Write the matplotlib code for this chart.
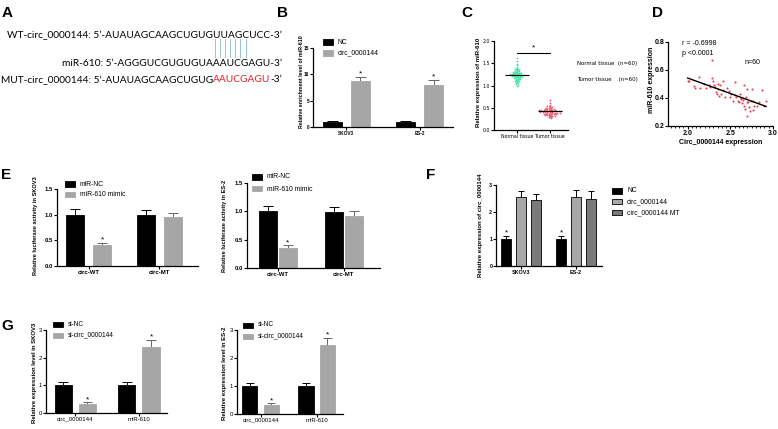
import numpy as np
import matplotlib
matplotlib.use('Agg')
import matplotlib.pyplot as plt
from matplotlib.font_manager import FontProperties
from matplotlib.patches import Rectangle
from matplotlib.ticker import MultipleLocator

W, H = 778, 429

# ---------------- data ----------------
# A: sequences
wt_seq = "WT-circ_0000144: 5\u2019-AUAUAGCAAGCUGUGUUAGCUCC-3\u2019"
mir_seq = "miR-610: 5\u2019-AGGGUCGUGUGUAAAUCGAGU-3\u2019"
mut_head = "MUT-circ_0000144: 5\u2019-AUAUAGCAAGCUGUG"
mut_site = "AAUCGAGU"
mut_tail = "-3\u2019"

# B: RIP enrichment
b_groups = ['SKOV3', 'ES-2']
b_legend = ['NC', 'circ_0000144']
b_nc = [1.0, 1.0]
b_nc_err = [0.1, 0.1]
b_circ = [8.7, 8.0]
b_circ_err = [0.85, 0.9]

# C: miR-610 in tissues
c_groups = ['Normal tissue', 'Tumor tissue']
c_normal = [1.62, 1.55, 1.48, 1.45, 1.42, 1.40, 1.38, 1.37, 1.36, 1.35,
            1.34, 1.33, 1.33, 1.32, 1.31, 1.30, 1.30, 1.29, 1.29, 1.28,
            1.28, 1.27, 1.27, 1.26, 1.26, 1.26, 1.25, 1.25, 1.25, 1.24,
            1.24, 1.24, 1.23, 1.23, 1.22, 1.22, 1.21, 1.21, 1.20, 1.20,
            1.19, 1.19, 1.18, 1.18, 1.17, 1.16, 1.15, 1.15, 1.14, 1.13,
            1.12, 1.11, 1.10, 1.09, 1.08, 1.06, 1.05, 1.03, 1.02, 1.00]
c_tumor = [0.67, 0.60, 0.56, 0.54, 0.53, 0.52, 0.51, 0.50, 0.50, 0.49,
           0.49, 0.48, 0.48, 0.47, 0.47, 0.46, 0.46, 0.46, 0.45, 0.45,
           0.45, 0.44, 0.44, 0.44, 0.43, 0.43, 0.43, 0.43, 0.42, 0.42,
           0.42, 0.41, 0.41, 0.41, 0.40, 0.40, 0.40, 0.39, 0.39, 0.39,
           0.38, 0.38, 0.38, 0.37, 0.37, 0.36, 0.36, 0.35, 0.35, 0.34,
           0.34, 0.33, 0.33, 0.32, 0.32, 0.31, 0.30, 0.30, 0.29, 0.28]

# D: correlation
d_circ = [2.00, 2.02, 2.13, 2.15, 2.19, 2.21, 2.25, 2.29, 2.28, 2.30,
          2.31, 2.32, 2.33, 2.34, 2.35, 2.36, 2.38, 2.39, 2.41, 2.42,
          2.44, 2.46, 2.48, 2.50, 2.51, 2.53, 2.56, 2.57, 2.59, 2.60,
          2.61, 2.62, 2.63, 2.64, 2.65, 2.66, 2.66, 2.67, 2.68, 2.69,
          2.70, 2.70, 2.71, 2.72, 2.73, 2.74, 2.75, 2.76, 2.77, 2.78,
          2.81, 2.84, 2.87, 2.90, 2.92, 2.37, 2.26, 2.09, 2.07, 2.56]
d_mir = [0.519, 0.524, 0.552, 0.471, 0.500, 0.470, 0.495, 0.671, 0.540, 0.520,
         0.495, 0.476, 0.445, 0.430, 0.500, 0.462, 0.490, 0.430, 0.524, 0.457,
         0.405, 0.470, 0.448, 0.410, 0.430, 0.380, 0.512, 0.405, 0.376, 0.369,
         0.430, 0.393, 0.398, 0.362, 0.386, 0.495, 0.345, 0.321, 0.405, 0.374,
         0.464, 0.269, 0.369, 0.338, 0.305, 0.376, 0.464, 0.314, 0.381, 0.345,
         0.345, 0.369, 0.457, 0.345, 0.381, 0.417, 0.480, 0.469, 0.488, 0.424]

# E: luciferase
e_groups = ['circ-WT', 'circ-MT']
e_legend = ['miR-NC', 'miR-610 mimic']
e_skov3_nc = [1.0, 1.0]
e_skov3_nc_err = [0.11, 0.1]
e_skov3_mimic = [0.40, 0.945]
e_skov3_mimic_err = [0.045, 0.085]
e_es2_nc = [1.0, 0.99]
e_es2_nc_err = [0.1, 0.09]
e_es2_mimic = [0.355, 0.91]
e_es2_mimic_err = [0.045, 0.09]

# F: overexpression
f_groups = ['SKOV3', 'ES-2']
f_legend = ['NC', 'circ_0000144', 'circ_0000144 MT']
f_nc = [1.0, 1.0]
f_nc_err = [0.11, 0.11]
f_circ = [2.56, 2.57]
f_circ_err = [0.22, 0.24]
f_mt = [2.44, 2.49]
f_mt_err = [0.21, 0.29]

# G: knockdown
g_groups = ['circ_0000144', 'miR-610']
g_legend = ['si-NC', 'si-circ_0000144']
g_skov3_nc = [1.0, 1.0]
g_skov3_nc_err = [0.12, 0.12]
g_skov3_si = [0.325, 2.39]
g_skov3_si_err = [0.06, 0.26]
g_es2_nc = [1.0, 1.0]
g_es2_nc_err = [0.12, 0.12]
g_es2_si = [0.333, 2.46]
g_es2_si_err = [0.05, 0.25]

BLACK = '#000000'
GRAY = '#a6a6a6'
DGRAY = '#7a7a7a'
NARROW = ['Liberation Sans Narrow', 'DejaVu Sans']

plt.rcParams['font.family'] = ['Liberation Sans', 'DejaVu Sans']
plt.rcParams['font.size'] = 4.3

fig = plt.figure(figsize=(W / 100, H / 100), dpi=100)


def px_axes(x0, x1, ytop, ybot, tick_size=4.3):
    ax = fig.add_axes([x0 / W, 1 - ybot / H, (x1 - x0) / W, (ybot - ytop) / H])
    ax.spines['top'].set_visible(False)
    ax.spines['right'].set_visible(False)
    ax.spines['left'].set_linewidth(0.9)
    ax.spines['bottom'].set_linewidth(0.9)
    ax.tick_params(length=1.9, width=0.8, pad=0.8, labelsize=tick_size)
    ax.patch.set_alpha(0)
    return ax


def ylabel(ax, text, right_px, frac, size=4.3):
    ax.set_ylabel(text, fontsize=size, fontweight='bold')
    bb = ax.get_position()
    x0 = bb.x0 * W
    ax.yaxis.set_label_coords((right_px - x0) / (bb.width * W), frac)


def draw_bars(ax, vals, errs, offset, width, color, edge, ecolor, stars=()):
    x = np.arange(len(vals)) + offset
    ax.bar(x, vals, width, color=color, edgecolor=edge, linewidth=0.6, zorder=2)
    tops = np.add(vals, errs)
    ax.vlines(x, vals, tops, color=ecolor, lw=0.7, zorder=1)
    ax.hlines(tops, x - width * 0.28, x + width * 0.28, color=ecolor, lw=0.7, zorder=1)
    for i in stars:
        ax.annotate('*', (x[i], tops[i]), xytext=(0, -0.5), textcoords='offset points',
                    ha='center', va='bottom', fontsize=6)


def px_legend(x, y, labels, colors, step, edge=None, size=4.9):
    for k, (lab, col) in enumerate(zip(labels, colors)):
        yy = y + k * step
        fig.patches.append(Rectangle((x / W, 1 - (yy + 2.5) / H), 10 / W, 5 / H,
                                     transform=fig.transFigure, facecolor=col,
                                     edgecolor=edge or col, linewidth=0.6))
        fig.text((x + 15) / W, 1 - yy / H, lab, fontsize=size, va='center')


def panel_letter(x, y, s):
    fig.text(x / W, 1 - y / H, s, fontsize=11, fontweight='bold', va='top')


def bold_ticks(ax):
    plt.setp(ax.get_xticklabels(), fontweight='bold')
    plt.setp(ax.get_yticklabels(), fontweight='bold')


# ---------------- A ----------------
panel_letter(2, 6, 'A')
seq_font = FontProperties(family=['Lato', 'DejaVu Sans'], size=7.3)
rend = fig.canvas.get_renderer()


def tw(s):
    return rend.get_text_width_height_descent(s, seq_font, ismath=False)[0]


right = 282
fig.text((right - tw(wt_seq)) / W, 1 - 35 / H, wt_seq, fontproperties=seq_font, va='center')
fig.text((right - tw(mir_seq)) / W, 1 - 63 / H, mir_seq, fontproperties=seq_font, va='center')
xt = right - tw(mut_tail)
fig.text(xt / W, 1 - 80 / H, mut_tail, fontproperties=seq_font, va='center')
xs = xt - tw(mut_site)
fig.text(xs / W, 1 - 80 / H, mut_site, fontproperties=seq_font, va='center', color='#e8202a')
fig.text((xs - tw(mut_head)) / W, 1 - 80 / H, mut_head, fontproperties=seq_font, va='center')
for xp in [215, 220, 225, 230, 235, 240.5, 246]:
    fig.add_artist(plt.Line2D([xp / W, xp / W], [1 - 39 / H, 1 - 57 / H],
                              color='#9cc3e0', lw=0.7))

# ---------------- B ----------------
panel_letter(277, 6, 'B')
ax = px_axes(313, 453, 48, 127, tick_size=3.4)
draw_bars(ax, b_nc, b_nc_err, -0.19, 0.26, BLACK, BLACK, BLACK)
draw_bars(ax, b_circ, b_circ_err, 0.19, 0.26, GRAY, GRAY, '#666666', stars=(0, 1))
ax.set_xlim(-0.45, 1.45)
ax.set_ylim(0, 15)
ax.set_yticks([0, 5, 10, 15])
ax.set_xticks(range(len(b_groups)), b_groups)
bold_ticks(ax)
ylabel(ax, 'Relative enrichment level of miR-610', 304, 0.57, size=3.8)
px_legend(323, 42, b_legend, [BLACK, GRAY], 11)

# ---------------- C ----------------
panel_letter(461, 6, 'C')
ax = px_axes(494, 568, 41, 130, tick_size=3.8)


def swarm(vals, bin_w, step):
    vals = np.asarray(vals)
    bins = np.round(vals / bin_w)
    offs = np.zeros(len(vals))
    for b in np.unique(bins):
        idx = np.where(bins == b)[0]
        offs[idx] = (np.arange(len(idx)) - (len(idx) - 1) / 2) * step
    return offs


ax.scatter(0 + swarm(c_normal, 0.025, 0.055), c_normal, s=1.6, color='#3fe0a4', lw=0, zorder=2)
ax.scatter(1 + swarm(c_tumor, 0.02, 0.075), c_tumor, s=1.6, color='#f0506a', lw=0, zorder=2)
ax.hlines([np.mean(c_normal), np.mean(c_tumor)], [-0.37, 0.63], [0.37, 1.37], color='black', lw=0.8, zorder=3)
ax.plot([0, 1], [1.74, 1.74], color='black', lw=0.8)
ax.text(0.5, 1.76, '*', ha='center', va='bottom', fontsize=6)
ax.set_xlim(-0.7, 1.55)
ax.set_ylim(0, 2.0)
ax.set_yticks([0, 0.5, 1.0, 1.5, 2.0])
ax.set_xticks(range(2), c_groups)
for lab in ax.get_xticklabels() + ax.get_yticklabels():
    lab.set_family(NARROW)
    lab.set_stretch('condensed')
ylabel(ax, 'Relative expression of miR-610', 481, 0.54, size=4.3)
fig.text(577 / W, 1 - 63 / H, 'Normal tissue  (n=60)', fontsize=4.3, va='center',
         family=NARROW, stretch='condensed')
fig.text(577 / W, 1 - 80 / H, 'Tumor tissue    (n=60)', fontsize=4.3, va='center',
         family=NARROW, stretch='condensed')

# ---------------- D ----------------
panel_letter(652, 6, 'D')
ax = px_axes(668, 773, 42, 126, tick_size=5)
ax.scatter(d_circ, d_mir, s=2.2, color='#ee3a46', lw=0, zorder=2)
k, c0 = np.polyfit(d_circ, d_mir, 1)
xl = np.array([2.0, 2.92])
ax.plot(xl, k * xl + c0, color='black', lw=1.0)
ax.set_xlim(1.77, 3.0)
ax.set_ylim(0.2, 0.8)
ax.set_xticks([2.0, 2.5, 3.0])
ax.set_yticks([0.2, 0.4, 0.6, 0.8])
ax.xaxis.set_minor_locator(MultipleLocator(0.05))
ax.tick_params(which='minor', length=1.3, width=0.6)
bold_ticks(ax)
ax.set_xlabel('Circ_0000144 expression', fontsize=5, fontweight='bold', labelpad=1.5)
ylabel(ax, 'miR-610 expression', 655, 0.55, size=5)
ax.text(1.93, 0.786, 'r = -0.6998', fontsize=5, va='center')
ax.text(1.93, 0.72, 'p <0.0001', fontsize=5, va='center')
ax.text(2.67, 0.657, 'n=60', fontsize=5, va='center')

# ---------------- E ----------------
panel_letter(1, 168, 'E')
ax = px_axes(57, 198, 189, 266)
draw_bars(ax, e_skov3_nc, e_skov3_nc_err, -0.19, 0.255, BLACK, BLACK, BLACK)
draw_bars(ax, e_skov3_mimic, e_skov3_mimic_err, 0.19, 0.255, GRAY, GRAY, '#666666', stars=(0,))
ax.set_xlim(-0.45, 1.55)
ax.set_ylim(0, 1.5)
ax.set_yticks([0, 0.5, 1.0, 1.5])
ax.set_xticks(range(2), e_groups)
bold_ticks(ax)
ylabel(ax, 'Relative luciferase activity in SKOV3', 38, 0.52, size=4.1)
px_legend(65, 184, e_legend, [BLACK, GRAY], 10.5)

ax = px_axes(247, 380, 183, 268)
draw_bars(ax, e_es2_nc, e_es2_nc_err, -0.15, 0.27, BLACK, BLACK, BLACK)
draw_bars(ax, e_es2_mimic, e_es2_mimic_err, 0.15, 0.27, GRAY, GRAY, '#666666', stars=(0,))
ax.set_xlim(-0.47, 1.55)
ax.set_ylim(0, 1.5)
ax.set_yticks([0, 0.5, 1.0, 1.5])
ax.set_xticks(range(2), e_groups)
bold_ticks(ax)
ylabel(ax, 'Relative luciferase activity in ES-2', 227, 0.5, size=4.1)
px_legend(252, 177, e_legend, [BLACK, GRAY], 12)

# ---------------- F ----------------
panel_letter(426, 168, 'F')
ax = px_axes(496, 602, 185, 266, tick_size=3.9)
draw_bars(ax, f_nc, f_nc_err, -0.27, 0.18, BLACK, BLACK, BLACK, stars=(0, 1))
draw_bars(ax, f_circ, f_circ_err, 0.0, 0.18, '#a8a8a8', BLACK, BLACK)
draw_bars(ax, f_mt, f_mt_err, 0.27, 0.18, DGRAY, BLACK, BLACK)
ax.set_xlim(-0.455, 1.47)
ax.set_ylim(0, 3)
ax.set_yticks([0, 1, 2, 3])
ax.set_xticks(range(2), f_groups)
bold_ticks(ax)
ylabel(ax, 'Relative expression of circ_0000144', 483, 0.5)
px_legend(612, 191, f_legend, [BLACK, '#a8a8a8', DGRAY], 10.7, edge=BLACK)

# ---------------- G ----------------
panel_letter(1, 319, 'G')
ax = px_axes(46, 167, 330, 413)
draw_bars(ax, g_skov3_nc, g_skov3_nc_err, -0.19, 0.27, BLACK, BLACK, BLACK)
draw_bars(ax, g_skov3_si, g_skov3_si_err, 0.19, 0.27, GRAY, GRAY, '#666666', stars=(0, 1))
ax.set_xlim(-0.46, 1.44)
ax.set_ylim(0, 3)
ax.set_yticks([0, 1, 2, 3])
ax.set_xticks(range(2), g_groups)
ylabel(ax, 'Relative expression level in SKOV3', 37, 0.48)
px_legend(53, 324, g_legend, [BLACK, GRAY], 11, size=4.7)

ax = px_axes(237, 343, 330, 414)
draw_bars(ax, g_es2_nc, g_es2_nc_err, -0.19, 0.27, BLACK, BLACK, BLACK)
draw_bars(ax, g_es2_si, g_es2_si_err, 0.19, 0.27, GRAY, GRAY, '#666666', stars=(0, 1))
ax.set_xlim(-0.42, 1.47)
ax.set_ylim(0, 3)
ax.set_yticks([0, 1, 2, 3])
ax.set_xticks(range(2), g_groups)
ylabel(ax, 'Relative expression level in ES-2', 227, 0.49)
px_legend(243, 325, g_legend, [BLACK, GRAY], 11, size=4.7)

fig.savefig('out.png', dpi=100)
